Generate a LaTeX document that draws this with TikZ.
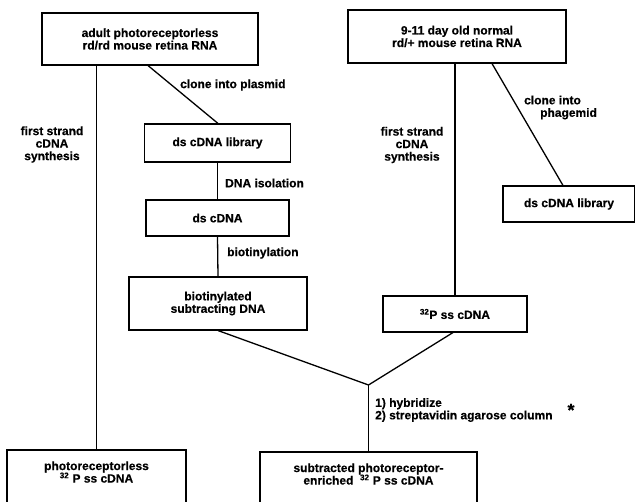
\documentclass[tikz,border=0pt]{standalone}
\usepackage{fontspec}
\setmainfont[BoldFeatures={FakeBold=0.5}]{Liberation Sans}
\begin{document}
\begin{tikzpicture}[x=1pt,y=-1pt,
  every node/.style={font=\bfseries\fontsize{12}{12.5}\selectfont, inner sep=0pt},
  box/.style={draw, line width=1.1pt, align=center},
  lbl/.style={align=center},
  conn/.style={line width=1.3pt}]
\useasboundingbox (0,0) rectangle (635,502);
% boxes
\node[box, minimum width=216pt, minimum height=52pt] (rdrd) at (150,39) {adult photoreceptorless\\rd/rd mouse retina RNA};
\node[box, minimum width=218pt, minimum height=53pt] (norm) at (457,36.5) {9-11 day old normal\\rd/+ mouse retina RNA};
\node[box, minimum width=146pt, minimum height=38pt] (libA) at (217.5,143) {ds cDNA library};
\node[box, minimum width=143pt, minimum height=36pt] (dsc) at (217.5,218) {ds cDNA};
\node[box, minimum width=178pt, minimum height=53pt] (biot) at (218,303.5) {biotinylated\\subtracting DNA};
\node[box, minimum width=144pt, minimum height=36pt] (pss) at (455,314) {\textsuperscript{32}P ss cDNA};
\node[box, minimum width=132pt, minimum height=36pt] (libB) at (569,204) {ds cDNA library};
\node[box, minimum width=179pt, minimum height=58pt] (prl) at (96.5,479) {};
\node[box, minimum width=217pt, minimum height=56pt] (sub) at (368.5,480) {};
\node[lbl] (prlt) at (96.5,472) {photoreceptorless\\\textsuperscript{32} P ss cDNA};
\node[lbl] (subt) at (368.5,474) {subtracted photoreceptor-\\enriched\ \ \textsuperscript{32} P ss cDNA};
\coordinate (junc) at (368.5,385);
% connectors
\draw[conn] (rdrd.south -| prl.north) -- (prl.north);
\draw[conn] ([xshift=-2pt]rdrd.south) -- ([xshift=0.5pt]libA.north);
\draw[conn] (libA.south) -- (dsc.north);
\draw[conn] (dsc.south) -- (biot.north);
\draw[conn] (biot.south) -- (junc);
\draw[conn] (norm.south -| pss.north) -- (pss.north);
\draw[conn] ([xshift=-2pt]pss.south) -- (junc);
\draw[conn] ([xshift=35pt]norm.south) -- ([xshift=-6pt]libB.north);
\draw[conn] (junc) -- (sub.north);
% labels
\node[lbl] (fsA) at (52,144.5) {first strand\\cDNA\\synthesis};
\node[lbl] (fsB) at (412,145) {first strand\\cDNA\\synthesis};
\node[anchor=west] (cp) at (180,85) {clone into plasmid};
\node[anchor=west, align=left] (cph) at (524,107.5) {clone into\\\hspace*{16pt}phagemid};
\node[anchor=west] (iso) at (225,183) {DNA isolation};
\node[anchor=west] (bt) at (227,253) {biotinylation};
\node[anchor=west, align=left] (hyb) at (375,410) {1) hybridize\\2) streptavidin agarose column};
\node[font=\bfseries\fontsize{18}{18}\selectfont] (star) at (571,410) {*};
\end{tikzpicture}
\end{document}
